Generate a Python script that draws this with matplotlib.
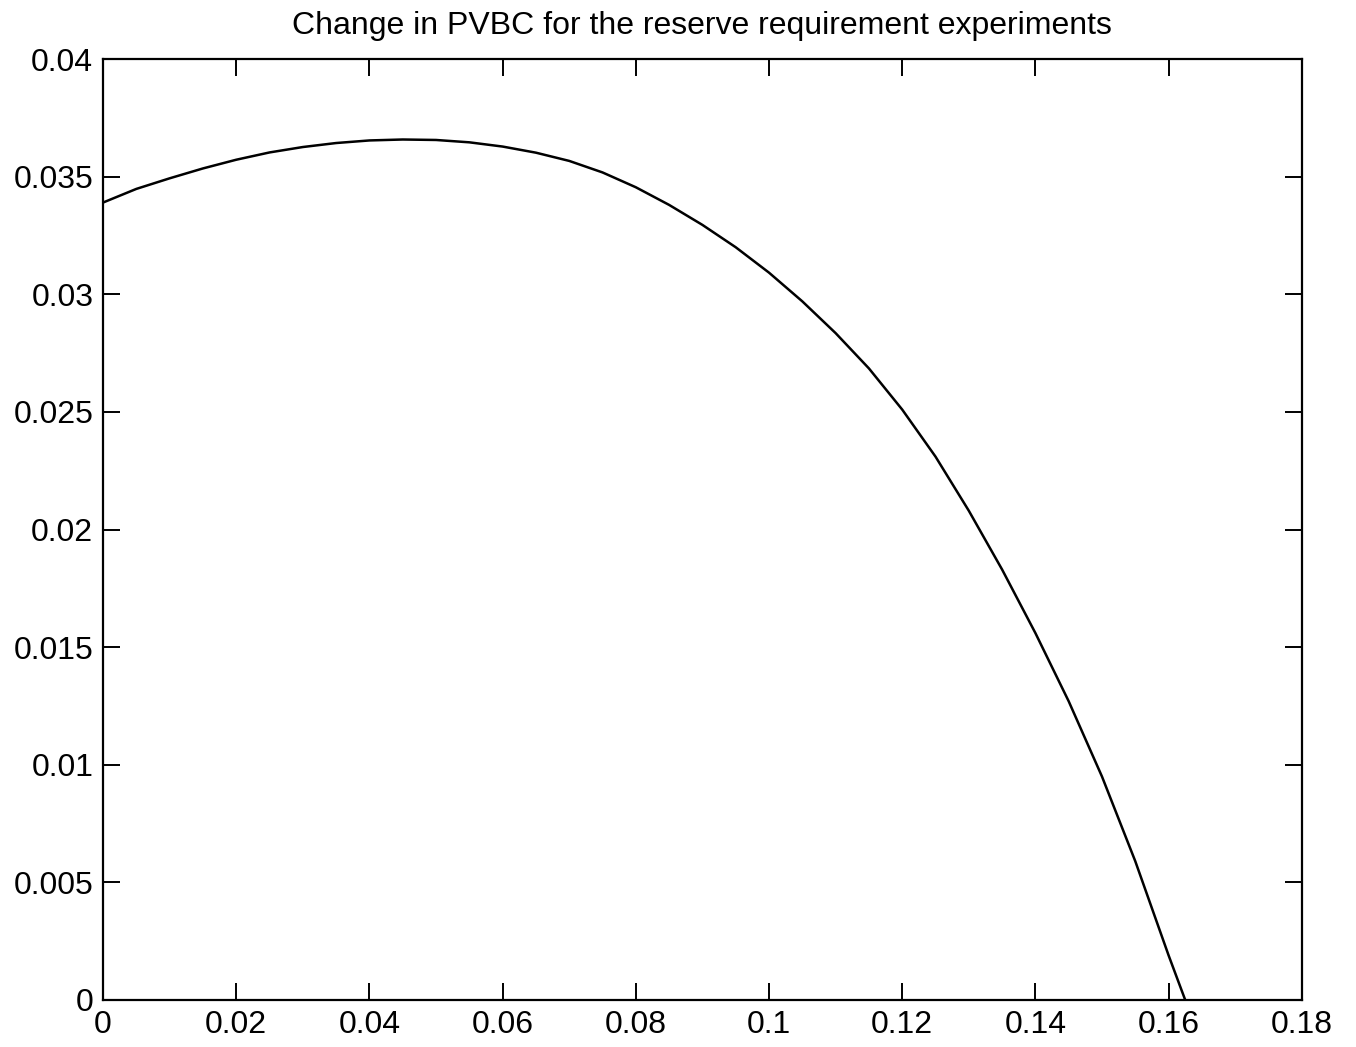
import numpy as np
import matplotlib
matplotlib.use("Agg")
import matplotlib.pyplot as plt

plt.rcParams['font.family'] = ['Liberation Sans', 'DejaVu Sans']

# reserve requirement vs change in PVBC
reserve = [0, 0.005, 0.010, 0.015, 0.020, 0.025, 0.030, 0.035, 0.040, 0.045,
           0.050, 0.055, 0.060, 0.065, 0.070, 0.075, 0.080, 0.085, 0.090,
           0.095, 0.100, 0.105, 0.110, 0.115, 0.120, 0.125, 0.130, 0.135,
           0.140, 0.145, 0.150, 0.155, 0.160, 0.1625]
pvbc = [0.03390, 0.03448, 0.03493, 0.03535, 0.03572, 0.03603, 0.03626,
        0.03643, 0.03654, 0.03658, 0.03656, 0.03646, 0.03628, 0.03602,
        0.03567, 0.03518, 0.03455, 0.03380, 0.03295, 0.03200, 0.03092,
        0.02970, 0.02835, 0.02685, 0.02510, 0.02310, 0.02080, 0.01830,
        0.01560, 0.01270, 0.00950, 0.00590, 0.00190, 0.0]

xticks = [0, 0.02, 0.04, 0.06, 0.08, 0.1, 0.12, 0.14, 0.16, 0.18]
xlabels = ["0", "0.02", "0.04", "0.06", "0.08", "0.1", "0.12", "0.14", "0.16", "0.18"]
yticks = [0, 0.005, 0.01, 0.015, 0.02, 0.025, 0.03, 0.035, 0.04]
ylabels = ["0", "0.005", "0.01", "0.015", "0.02", "0.025", "0.03", "0.035", "0.04"]

fig = plt.figure(figsize=(13.56, 10.47), dpi=100)
ax = fig.add_axes([0.076, 0.0449, 0.884, 0.8987])
ax.plot(reserve, pvbc, "-", color="black", linewidth=1.8)

ax.set_xlim(0, 0.18)
ax.set_ylim(0, 0.04)
ax.set_xticks(xticks)
ax.set_xticklabels(xlabels)
ax.set_yticks(yticks)
ax.set_yticklabels(ylabels)
ax.tick_params(direction="in", length=12, width=1.4, labelsize=23,
               top=True, right=True, pad=7)
for s in ax.spines.values():
    s.set_linewidth(1.6)

ax.set_title("Change in PVBC for the reserve requirement experiments",
             fontsize=23, pad=18)

fig.savefig("out.png", dpi=100)
